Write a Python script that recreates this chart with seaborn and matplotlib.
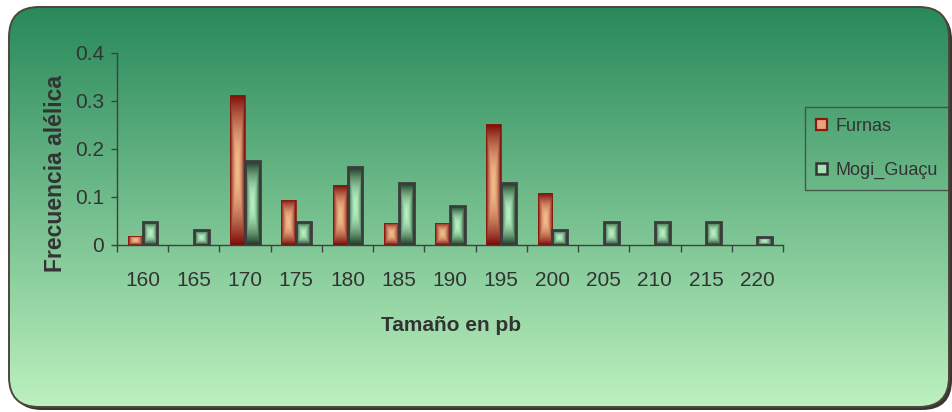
import numpy as np
import pandas as pd
import matplotlib
matplotlib.use("Agg")
import matplotlib.pyplot as plt
from matplotlib import font_manager as fm
from matplotlib.patches import FancyBboxPatch, Rectangle
from matplotlib.colors import to_rgb
import seaborn as sns

# Allele sizes (bp) and allele frequencies per population
sizes = ["160", "165", "170", "175", "180", "185", "190", "195", "200", "205", "210", "215", "220"]
furnas = [0.019, 0.0, 0.313, 0.094, 0.125, 0.046, 0.046, 0.252, 0.108, 0.0, 0.0, 0.0, 0.0]
mogi_guacu = [0.048, 0.031, 0.174, 0.048, 0.162, 0.129, 0.081, 0.129, 0.031, 0.048, 0.048, 0.048, 0.016]
populations = ["Furnas", "Mogi_Guaçu"]
y_ticks = [0, 0.1, 0.2, 0.3, 0.4]
y_tick_labels = ["0", "0.1", "0.2", "0.3", "0.4"]

df = pd.DataFrame({
    "Tamaño": sizes * 2,
    "Frecuencia": furnas + mogi_guacu,
    "Población": [populations[0]] * len(sizes) + [populations[1]] * len(sizes),
})

sns.set_style("ticks")
available = {f.name for f in fm.fontManager.ttflist}
narrow = "Liberation Sans Narrow" if "Liberation Sans Narrow" in available else None
base = [narrow] if narrow else []
plt.rcParams["font.family"] = base + ["Liberation Sans", "DejaVu Sans"]
tick_size = 16.5 if narrow else 15
legend_size = 16 if narrow else 13
TEXT = "#333333"
LINE = "#404040"

W, H = 953, 412
fig = plt.figure(figsize=(W / 100, H / 100), dpi=100)
fig.patch.set_facecolor("white")

# Rounded green panel with vertical gradient and drop shadow
bg = fig.add_axes([0, 0, 1, 1], zorder=-5)
bg.set_xlim(0, W)
bg.set_ylim(H, 0)
bg.axis("off")
px0, py0, pw, ph, rad = 9, 7, 940, 400, 30
shadow = FancyBboxPatch((px0 + 3, py0 + 3), pw, ph,
                        boxstyle=f"round,pad=0,rounding_size={rad}",
                        facecolor="#3a3530", edgecolor="none")
bg.add_patch(shadow)
panel = FancyBboxPatch((px0, py0), pw, ph,
                       boxstyle=f"round,pad=0,rounding_size={rad}",
                       facecolor="none", edgecolor="#4d463c", linewidth=1.4, zorder=3)
bg.add_patch(panel)
top_c = np.array(to_rgb("#28895a"))
bot_c = np.array(to_rgb("#bdf1bf"))
t = np.linspace(0, 1, 256)[:, None, None]
grad = top_c * (1 - t) + bot_c * t
grad = np.repeat(grad, 2, axis=1)
im = bg.imshow(grad, extent=(px0, px0 + pw, py0 + ph, py0), aspect="auto",
               interpolation="bilinear", zorder=2)
clip = FancyBboxPatch((px0, py0), pw, ph,
                      boxstyle=f"round,pad=0,rounding_size={rad}",
                      facecolor="none", edgecolor="none", transform=bg.transData)
im.set_clip_path(clip)

# Chart area
ax_l, ax_r, ax_t, ax_b = 117, 783, 53, 245
ax = fig.add_axes([ax_l / W, 1 - ax_b / H, (ax_r - ax_l) / W, (ax_b - ax_t) / H])
ax.patch.set_alpha(0)

sns.barplot(data=df, x="Tamaño", y="Frecuencia", hue="Población", order=sizes,
            hue_order=populations, palette=["#d08060", "#80c890"], width=0.58,
            dodge=True, ax=ax, legend=False, errorbar=None, saturation=1)

styles = {
    "Furnas": dict(dark="#7a0a08", light="#f2bc8a", edge="#8a1a10", lw=0.6, gamma=1.9),
    "Mogi_Guaçu": dict(dark="#1a3a22", light="#b4f2c2", edge="#3c3c3c", lw=2.0, gamma=1.9),
}


def box_gradient(dark, light, gamma, nx=40, ny=160):
    u = np.abs(np.linspace(-1, 1, nx))[None, :]
    v = np.abs(np.linspace(-1, 1, ny))[:, None]
    s = np.maximum(u, v) ** gamma
    d = np.array(to_rgb(dark))
    li = np.array(to_rgb(light))
    return li * (1 - s[..., None]) + d * s[..., None]


n = len(sizes)
for i, p in enumerate(ax.patches):
    pop = populations[i // n]
    st = styles[pop]
    h = p.get_height()
    p.set_facecolor("none")
    if h <= 0:
        p.set_edgecolor("none")
        continue
    p.set_edgecolor(st["edge"])
    p.set_linewidth(st["lw"])
    p.set_zorder(3)
    x0 = p.get_x()
    w = p.get_width()
    img = box_gradient(st["dark"], st["light"], st["gamma"])
    gi = ax.imshow(img, extent=(x0, x0 + w, 0, h), aspect="auto",
                   interpolation="bilinear", zorder=2.5)
    gi.set_clip_path(p)

ax.set_xlim(-0.5, len(sizes) - 0.5)
ax.set_ylim(0, 0.4)

for side in ["top", "right"]:
    ax.spines[side].set_visible(False)
for side in ["left", "bottom"]:
    ax.spines[side].set_color(LINE)
    ax.spines[side].set_linewidth(1.0)

ax.set_yticks(y_ticks)
ax.set_yticklabels(y_tick_labels)
ax.set_xticks(range(len(sizes)))
ax.set_xticklabels(sizes)
ax.set_xticks(np.arange(-0.5, len(sizes), 1.0), minor=True)
ax.tick_params(axis="x", which="major", length=0, pad=18.5, labelsize=tick_size, labelcolor=TEXT)
ax.tick_params(axis="x", which="minor", length=5, width=1, color=LINE, direction="out")
ax.tick_params(axis="y", which="major", length=4.5, width=1, color=LINE, pad=5,
               labelsize=tick_size, labelcolor=TEXT)

ax.set_xlabel("Tamaño en pb", fontsize=15, fontweight="bold", color=TEXT,
              family=["Liberation Sans", "DejaVu Sans"])
ax.xaxis.set_label_coords(0.5015, -0.4167)
ax.xaxis.label.set_va("center")
ax.set_ylabel("Frecuencia alélica", fontsize=16.5, fontweight="bold", color=TEXT,
              family=["Liberation Sans", "DejaVu Sans"])
ax.yaxis.set_label_coords(-0.093, 0.375)
ax.yaxis.label.set_va("center")

handles = [
    Rectangle((0, 0), 1, 1, facecolor="#e8a57c", edgecolor="#8a1a10", linewidth=1.6),
    Rectangle((0, 0), 1, 1, facecolor="#a8e2b2", edgecolor="#333333", linewidth=1.8),
]
leg = fig.legend(handles, populations, loc="upper left",
                 bbox_to_anchor=(805 / W, 1 - 107 / H), borderaxespad=0,
                 frameon=True, fancybox=False, fontsize=legend_size, labelcolor=TEXT,
                 handlelength=0.6, handleheight=0.6, handletextpad=0.5,
                 labelspacing=1.5, borderpad=0.6)
leg.get_frame().set_facecolor("none")
leg.get_frame().set_edgecolor(LINE)
leg.get_frame().set_linewidth(1.0)

fig.savefig("out.png", dpi=100)
